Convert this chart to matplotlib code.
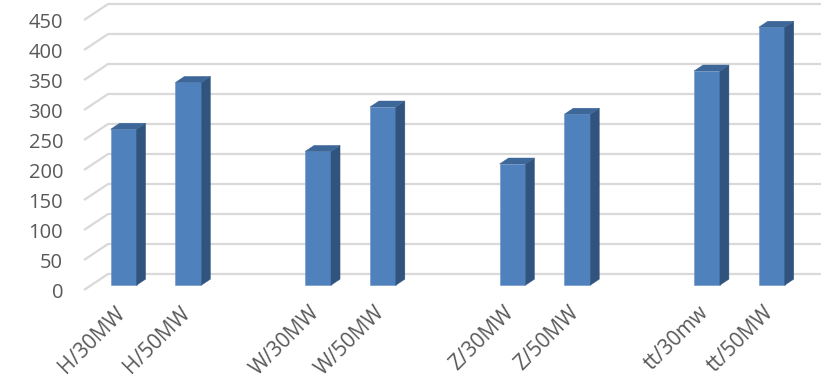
import matplotlib
matplotlib.use("Agg")
import matplotlib.pyplot as plt
import matplotlib.transforms as mtransforms
from matplotlib.patches import Polygon

# Data
categories = ["H/30MW", "H/50MW", "", "W/30MW", "W/50MW", "", "Z/30MW", "Z/50MW", "", "tt/30mw", "tt/50MW"]
values = [260, 338, None, 223, 297, None, 202, 285, None, 357, 430]
yticks = [0, 50, 100, 150, 200, 250, 300, 350, 400, 450]

# pseudo-3D geometry (in data units)
DX, DY = 0.371, 26.7        # full depth shift
D0, DD = 0.30, 0.375        # bar front depth, bar depth fraction
BW = 0.40                   # bar width

FRONT = "#4f81bd"
SIDE = "#31547e"
TOP = "#3d6699"
GRID = "#d9d9d9"
TXT = "#595959"

plt.rcParams['font.family'] = ['Open Sans', 'DejaVu Sans']

fig = plt.figure(figsize=(8.31, 3.89), dpi=100)
W, H = 831, 389
left, right, top, bottom = 84, 821, 4, 290
ax = fig.add_axes([left / W, (H - bottom) / H, (right - left) / W, (bottom - top) / H])
n = len(categories)
ax.set_xlim(-0.5, n - 0.5 + DX)
ax.set_ylim(0, 450 + DY)
for s in ax.spines.values():
    s.set_visible(False)

# gridlines (floor diagonal + back wall)
for v in yticks:
    ax.plot([-0.5, -0.5 + DX, n - 0.5 + DX], [v, v + DY, v + DY],
            color=GRID, lw=1.6, solid_capstyle='butt', clip_on=False, zorder=1)

# bars
for i, v in enumerate(values):
    if v is None:
        continue
    x0 = i - BW / 2 + D0 * DX
    y0 = D0 * DY
    ddx, ddy = DD * DX, DD * DY
    ax.bar(x0, v, width=BW, bottom=y0, align='edge', color=FRONT,
           edgecolor="#6d93c6", linewidth=0.4, zorder=3, clip_on=False)
    side = Polygon([[x0 + BW, y0], [x0 + BW + ddx, y0 + ddy],
                    [x0 + BW + ddx, y0 + v + ddy], [x0 + BW, y0 + v]],
                   closed=True, facecolor=SIDE, edgecolor=SIDE, lw=0.3, zorder=3, clip_on=False)
    topp = Polygon([[x0, y0 + v], [x0 + BW, y0 + v],
                    [x0 + BW + ddx, y0 + v + ddy], [x0 + ddx, y0 + v + ddy]],
                   closed=True, facecolor=TOP, edgecolor=TOP, lw=0.3, zorder=3, clip_on=False)
    ax.add_patch(side)
    ax.add_patch(topp)

ax.set_yticks(yticks)
ax.set_yticklabels([str(t) for t in yticks], fontsize=14.5, color=TXT)
ax.tick_params(axis='y', length=0, pad=15)

ax.set_xticks(range(n))
ax.set_xticklabels(categories, fontsize=15, color=TXT, rotation=45,
                   ha='right', rotation_mode='anchor')
ax.tick_params(axis='x', length=0, pad=9)
off = mtransforms.ScaledTranslation(-2 / 100, 0, fig.dpi_scale_trans)
for lbl in ax.get_xticklabels():
    lbl.set_transform(lbl.get_transform() + off)

fig.savefig("out.png", dpi=100)
